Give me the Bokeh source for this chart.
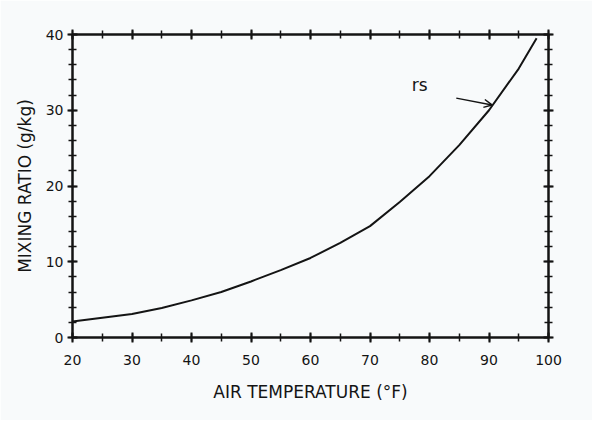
from bokeh.plotting import figure
from bokeh.models import FixedTicker, LinearAxis, Arrow, OpenHead, Label
from bokeh.embed import file_html
from bokeh.resources import INLINE

# Data (saturation mixing ratio curve)
temps_f = [20, 25, 30, 35, 40, 45, 50, 55, 60, 65, 70, 75, 80, 85, 90, 95, 98]
mixing_ratio = [2.1, 2.6, 3.1, 3.9, 4.9, 6.0, 7.4, 8.9, 10.5, 12.5, 14.7, 17.9, 21.3, 25.4, 30.0, 35.5, 39.5]

x_major = [20, 30, 40, 50, 60, 70, 80, 90, 100]
x_minor = list(range(20, 101, 5))
y_major = [0, 10, 20, 30, 40]
y_minor = list(range(0, 41, 2))

curve_label = "rs"
label_pos = (77.0, 32.0)
arrow_start = (84.5, 31.6)
arrow_end = (90.5, 30.7)

FONT = "DejaVu Sans"
INK = "#141414"
BG = "#f8fafb"

p = figure(width=592, height=420, output_backend="svg", toolbar_location=None,
           x_range=(20, 100), y_range=(0, 40),
           frame_width=476, frame_height=303,
           min_border_left=72, min_border_right=44, min_border_top=34, min_border_bottom=83,
           background_fill_color=BG, border_fill_color=BG)
p.xgrid.visible = False
p.ygrid.visible = False
p.outline_line_color = INK
p.outline_line_width = 2

def style(ax, ticks, minor, show_labels=True):
    ax.ticker = FixedTicker(ticks=ticks, minor_ticks=minor)
    ax.axis_line_color = INK
    ax.axis_line_width = 2
    ax.major_tick_line_color = INK
    ax.major_tick_line_width = 2
    ax.minor_tick_line_color = INK
    ax.minor_tick_line_width = 1.5
    ax.major_tick_in = 5
    ax.major_tick_out = 5
    ax.minor_tick_in = 4
    ax.minor_tick_out = 4
    ax.major_label_text_font = FONT
    ax.major_label_text_font_size = "14px"
    ax.major_label_text_color = INK
    ax.axis_label_text_font = FONT
    ax.axis_label_text_font_style = "normal"
    ax.axis_label_text_font_size = "17px"
    ax.axis_label_text_color = INK
    if not show_labels:
        ax.major_label_overrides = {t: "" for t in ticks}

style(p.xaxis[0], x_major, x_minor)
style(p.yaxis[0], y_major, y_minor)
p.xaxis[0].axis_label = "AIR TEMPERATURE (°F)"
p.yaxis[0].axis_label = "MIXING RATIO (g/kg)"
p.xaxis[0].major_label_standoff = 12
p.yaxis[0].major_label_standoff = 4
p.xaxis[0].axis_label_standoff = 14
p.yaxis[0].axis_label_standoff = 8

top = LinearAxis()
style(top, x_major, x_minor, show_labels=False)
p.add_layout(top, "above")
right = LinearAxis()
style(right, y_major, y_minor, show_labels=False)
p.add_layout(right, "right")

p.line(temps_f, mixing_ratio, line_color=INK, line_width=2)

p.add_layout(Label(x=label_pos[0], y=label_pos[1], text=curve_label,
                   text_font=FONT, text_font_size="17px", text_color=INK))
p.add_layout(Arrow(x_start=arrow_start[0], y_start=arrow_start[1],
                   x_end=arrow_end[0], y_end=arrow_end[1],
                   line_color=INK, line_width=1.5,
                   end=OpenHead(size=8, line_color=INK, line_width=1.5)))

open("out.html", "w").write(file_html(p, INLINE))
